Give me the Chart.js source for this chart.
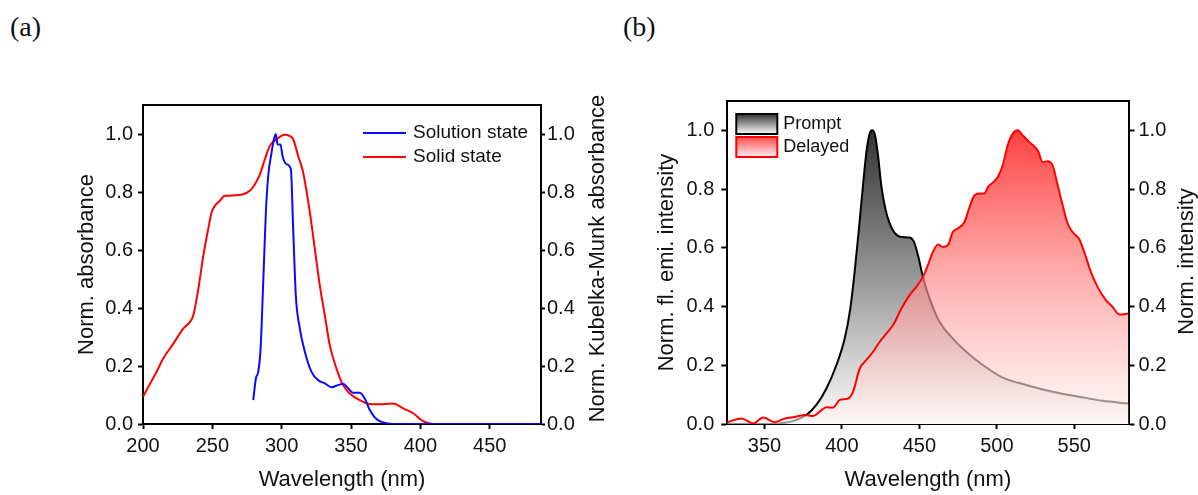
<!DOCTYPE html>
<html>
<head>
<meta charset="utf-8">
<script src="https://cdn.jsdelivr.net/npm/chart.js@4.4.1/dist/chart.umd.min.js"></script>
<style>
  html, body { margin: 0; padding: 0; background: #fff; }
  #page { position: relative; width: 1198px; height: 495px; overflow: hidden; }
  canvas { position: absolute; top: 0; }
  #chartA { left: 0; }
  #chartB { left: 620px; }
  .panel { position: absolute; top: 12px; font-family: "Liberation Serif", "Times New Roman", serif; font-size: 28px; line-height: 1.1; color: #111; }
</style>
</head>
<body>
<div id="page">
  <div class="panel" style="left:10px">(a)</div>
  <div class="panel" style="left:623px">(b)</div>
  <canvas id="chartA" width="620" height="495"></canvas>
  <canvas id="chartB" width="578" height="495"></canvas>
</div>
<script>
// (a) absorbance
const solutionWl = [279.5, 281.4, 283.1, 284.8, 286.7, 288.6, 290.3, 292.7, 294.4, 295.8, 297, 299.2, 300.6, 303.5, 306.6, 308.3, 310.2, 313.1, 316.7, 321.5, 326.3, 331.1, 335.9, 340.7, 344.3, 347.9, 351.5, 356.3, 359.9, 363.5, 368.3, 375.5, 387.6, 487];
const solutionAbs = [0.082, 0.157, 0.18, 0.26, 0.489, 0.73, 0.856, 0.936, 0.982, 0.999, 0.964, 0.964, 0.924, 0.896, 0.879, 0.672, 0.443, 0.329, 0.249, 0.18, 0.151, 0.14, 0.127, 0.134, 0.139, 0.123, 0.108, 0.108, 0.088, 0.048, 0.017, 0.003, 0, 0];

const solidWl = [200, 203.8, 209.8, 214.6, 221.9, 229, 233.9, 236.3, 238.7, 241, 243.5, 247, 249.5, 251.9, 255.5, 259, 262.7, 267.5, 272.3, 277, 280.7, 284.3, 287.9, 291.5, 296.3, 302.3, 305.9, 308.3, 311.9, 315.5, 320.3, 323.9, 327.5, 331.1, 334.7, 339.5, 344.3, 349.1, 356.3, 363.5, 373.2, 380.4, 387.6, 394.8, 402, 409.2, 430.8, 487];
const solidAbs = [0.094, 0.128, 0.18, 0.226, 0.277, 0.329, 0.352, 0.375, 0.432, 0.5, 0.581, 0.672, 0.73, 0.753, 0.77, 0.787, 0.787, 0.789, 0.792, 0.804, 0.827, 0.861, 0.913, 0.959, 0.982, 0.997, 0.993, 0.982, 0.924, 0.867, 0.73, 0.604, 0.478, 0.375, 0.271, 0.191, 0.134, 0.105, 0.082, 0.069, 0.068, 0.071, 0.054, 0.037, 0.01, 0, 0, 0];

// (b) emission
const promptWl = [345, 353.5, 364.2, 370.7, 377.1, 383.5, 390, 396.4, 401.8, 405.4, 408.2, 411, 413.6, 415.8, 417.9, 419.6, 421.4, 423.3, 425.4, 428, 430.8, 434, 438.3, 443.7, 446.5, 449.1, 452.3, 456.6, 463, 471.6, 480.2, 490.9, 503.8, 518.9, 536, 553.2, 568.3, 585];
const promptInt = [0, 0, 0.005, 0.014, 0.031, 0.065, 0.121, 0.2, 0.291, 0.393, 0.518, 0.666, 0.813, 0.926, 0.989, 1.0, 0.983, 0.915, 0.813, 0.734, 0.683, 0.651, 0.637, 0.635, 0.62, 0.575, 0.501, 0.427, 0.348, 0.291, 0.246, 0.201, 0.158, 0.133, 0.11, 0.093, 0.079, 0.07];

const delayedWl = [326, 335.2, 342.7, 349.2, 356.7, 363.2, 369.6, 376.1, 381.4, 385.7, 390, 394.3, 398.6, 404, 407.2, 411.5, 415.8, 420.1, 424.4, 428.7, 433, 438.4, 443.7, 448, 452.3, 455.5, 458.8, 462, 465.2, 468.4, 471.6, 474.8, 479.1, 482.4, 485.6, 488.8, 492, 494.2, 497.4, 500.6, 503.8, 507, 510.3, 513.5, 516.7, 521, 526.4, 529.6, 532.8, 536, 539.3, 542.5, 545.7, 548.9, 553.2, 556.4, 560.7, 565, 570.4, 574.7, 579, 585];
const delayedInt = [0.006, 0.019, 0.002, 0.022, 0.006, 0.019, 0.024, 0.031, 0.027, 0.042, 0.057, 0.056, 0.082, 0.087, 0.11, 0.189, 0.218, 0.246, 0.28, 0.308, 0.337, 0.393, 0.439, 0.467, 0.501, 0.541, 0.586, 0.611, 0.603, 0.609, 0.654, 0.666, 0.688, 0.739, 0.779, 0.785, 0.785, 0.807, 0.822, 0.841, 0.881, 0.949, 0.989, 1.0, 0.983, 0.96, 0.932, 0.892, 0.895, 0.881, 0.813, 0.745, 0.683, 0.654, 0.629, 0.586, 0.518, 0.467, 0.422, 0.399, 0.373, 0.376];

const waveTicksA = [200, 250, 300, 350, 400, 450];
const waveTicksB = [350, 400, 450, 500, 550];
const normTicks = [0, 0.2, 0.4, 0.6, 0.8, 1.0];

const sans = '"Liberation Sans", Arial, sans-serif';
const tickFont = { family: sans, size: 20 };
const titleFont = { family: sans, size: 22 };
const ink = '#111';

function pts(xs, ys) {
  return xs.map((x, i) => ({ x: x, y: ys[i] }));
}

function vGradient(chart, stops) {
  const { ctx, chartArea, scales } = chart;
  if (!chartArea) return 'rgba(0,0,0,0)';
  const g = ctx.createLinearGradient(0, scales.y.getPixelForValue(1), 0, chartArea.bottom);
  stops.forEach(s => g.addColorStop(s[0], s[1]));
  return g;
}

function xAxis(min, max, ticks, pad) {
  return {
    type: 'linear', position: 'bottom', min: min, max: max,
    afterBuildTicks: s => { s.ticks = ticks.map(v => ({ value: v })); },
    afterFit: s => { s.height = 71; },
    grid: { drawOnChartArea: false, tickLength: 5, tickWidth: 2, tickColor: '#000' },
    border: { color: '#000', width: 2 },
    ticks: { color: ink, font: tickFont, padding: pad, maxRotation: 0, autoSkip: false },
    title: { display: true, text: 'Wavelength (nm)', color: ink, font: titleFont, padding: { top: 0, bottom: 2 } }
  };
}

function yAxis(pos, width, pad, tick, title) {
  return {
    type: 'linear', position: pos, min: 0, max: 1.1,
    afterBuildTicks: s => { s.ticks = normTicks.map(v => ({ value: v })); },
    afterFit: s => { s.width = width; },
    grid: { drawOnChartArea: false, tickLength: tick, tickWidth: 2, tickColor: '#000' },
    border: { color: '#000', width: 2 },
    ticks: { color: ink, font: tickFont, padding: pad, autoSkip: false, callback: v => v.toFixed(1) },
    title: title ? { display: true, text: title, color: ink, font: titleFont, padding: 0 } : { display: false }
  };
}

// top spine, right-hand axis title (reads bottom to top) and the inset legend
const extras = {
  id: 'extras',
  afterDatasetsDraw(chart, args, o) {
    const { ctx, chartArea: a } = chart;
    ctx.save();
    ctx.strokeStyle = '#000';
    ctx.lineWidth = 2;
    ctx.beginPath();
    ctx.moveTo(a.left - 1, a.top);
    ctx.lineTo(a.right + 1, a.top);
    ctx.stroke();

    ctx.translate(o.titleX, (a.top + a.bottom) / 2 + o.titleDy);
    ctx.rotate(-Math.PI / 2);
    ctx.font = '22px ' + sans;
    ctx.fillStyle = ink;
    ctx.textAlign = 'center';
    ctx.textBaseline = 'middle';
    ctx.fillText(o.title, 0, 0);
    ctx.restore();

    ctx.save();
    ctx.font = o.font;
    ctx.textBaseline = 'middle';
    chart.data.datasets.forEach((ds, i) => {
      const x = a.left + o.left;
      const y = a.top + o.top + i * o.gap;
      if (o.boxes) {
        const g = ctx.createLinearGradient(0, y - o.boxH / 2, 0, y + o.boxH / 2);
        g.addColorStop(0, o.boxes[i][0]);
        g.addColorStop(1, o.boxes[i][1]);
        ctx.fillStyle = g;
        ctx.fillRect(x, y - o.boxH / 2, o.sample, o.boxH);
        ctx.strokeStyle = ds.borderColor;
        ctx.lineWidth = 2;
        ctx.strokeRect(x, y - o.boxH / 2, o.sample, o.boxH);
      } else {
        ctx.strokeStyle = ds.borderColor;
        ctx.lineWidth = 2;
        ctx.beginPath();
        ctx.moveTo(x, y);
        ctx.lineTo(x + o.sample, y);
        ctx.stroke();
      }
      ctx.fillStyle = ink;
      ctx.fillText(ds.label, x + o.sample + o.textGap, y);
    });
    ctx.restore();
  }
};

new Chart('chartA', {
  type: 'line',
  data: {
    datasets: [
      { label: 'Solution state', data: pts(solutionWl, solutionAbs), yAxisID: 'y',
        borderColor: '#0a0aff', borderWidth: 2, pointRadius: 0, cubicInterpolationMode: 'monotone', fill: false },
      { label: 'Solid state', data: pts(solidWl, solidAbs), yAxisID: 'y2',
        borderColor: '#ff0000', borderWidth: 2, pointRadius: 0, cubicInterpolationMode: 'monotone', fill: false }
    ]
  },
  options: {
    responsive: false, animation: false, events: [],
    layout: { padding: { left: 74, top: 105, right: 0, bottom: 0 } },
    scales: {
      x: xAxis(200, 487, waveTicksA, 5),
      y: yAxis('left', 69, 5, 5, 'Norm. absorbance'),
      y2: yAxis('right', 79, 2, 4, null)
    },
    plugins: {
      legend: { display: false }, tooltip: { enabled: false },
      extras: { title: 'Norm. Kubelka-Munk absorbance', titleX: 598, titleDy: -6,
        font: '19px ' + sans, left: 220, top: 28, gap: 24, sample: 43, textGap: 7 }
    }
  },
  plugins: [extras]
});

new Chart('chartB', {
  type: 'line',
  data: {
    datasets: [
      { label: 'Prompt', data: pts(promptWl, promptInt), yAxisID: 'y', order: 2,
        borderColor: '#000000', borderWidth: 2, pointRadius: 0, cubicInterpolationMode: 'monotone',
        fill: 'origin',
        backgroundColor: c => vGradient(c.chart, [[0, '#333333'], [1, '#fcfcfc']]) },
      { label: 'Delayed', data: pts(delayedWl, delayedInt), yAxisID: 'y2', order: 1,
        borderColor: '#ff0000', borderWidth: 2, pointRadius: 0, cubicInterpolationMode: 'monotone',
        fill: 'origin',
        backgroundColor: c => vGradient(c.chart, [[0, 'rgba(255,30,30,0.85)'], [0.5, 'rgba(255,135,135,0.68)'], [1, 'rgba(255,246,246,0.6)']]) }
    ]
  },
  options: {
    responsive: false, animation: false, events: [],
    layout: { padding: { left: 33.5, top: 101, right: 0, bottom: 0 } },
    scales: {
      x: xAxis(326, 585, waveTicksB, 5),
      y: yAxis('left', 73.8, 7, 6, 'Norm. fl. emi. intensity'),
      y2: yAxis('right', 69.5, 4, 6, null)
    },
    plugins: {
      legend: { display: false }, tooltip: { enabled: false },
      extras: { title: 'Norm. intensity', titleX: 567, titleDy: -1,
        font: '18px ' + sans, left: 9, top: 23, gap: 23, sample: 41, boxH: 20, textGap: 6,
        boxes: [['#333333', '#ffffff'], ['#ff4a4a', '#fff0f0']] }
    }
  },
  plugins: [extras]
});
</script>
</body>
</html>
